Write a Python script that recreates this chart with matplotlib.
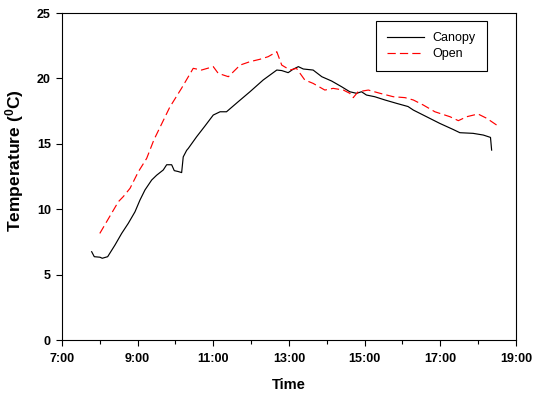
import matplotlib
matplotlib.use("Agg")
import matplotlib.pyplot as plt

plt.rcParams['font.family'] = ['Liberation Sans', 'DejaVu Sans']
plt.rcParams['mathtext.fontset'] = 'custom'
plt.rcParams['mathtext.bf'] = 'Liberation Sans:bold'
plt.rcParams['mathtext.rm'] = 'Liberation Sans:bold'

# hora decimal e temperatura
t_canopy = [7.785, 7.854, 8.004, 8.065, 8.208, 8.401, 8.578, 8.753, 8.93, 9.062, 9.194,
            9.371, 9.503, 9.678, 9.768, 9.9, 9.969, 10.074, 10.164, 10.206, 10.296,
            10.34, 10.56, 10.78, 11.0, 11.18, 11.35, 11.66, 11.97, 12.32, 12.5, 12.68,
            12.81, 12.98, 13.11, 13.25, 13.38, 13.64, 13.87, 14.13, 14.39, 14.61, 14.79,
            14.92, 15.05, 15.27, 15.54, 15.85, 16.15, 16.29, 16.64, 16.99, 17.34, 17.52,
            17.87, 18.14, 18.33, 18.36]
y_canopy = [6.75, 6.37, 6.33, 6.25, 6.37, 7.26, 8.15, 8.92, 9.8, 10.7, 11.47,
            12.23, 12.6, 13.0, 13.4, 13.4, 12.95, 12.88, 12.8, 14.0, 14.5,
            14.65, 15.54, 16.36, 17.2, 17.45, 17.45, 18.22, 18.98, 19.88, 20.26, 20.64,
            20.6, 20.44, 20.7, 20.9, 20.72, 20.64, 20.13, 19.8, 19.37, 18.98, 18.86,
            18.98, 18.73, 18.6, 18.35, 18.09, 17.85, 17.58, 17.07, 16.56, 16.1, 15.85,
            15.8, 15.67, 15.49, 14.52]

t_open = [8.0, 8.49, 8.62, 8.8, 9.02, 9.24, 9.43, 9.85, 10.16, 10.47, 10.69, 11.0,
          11.13, 11.4, 11.71, 11.97, 12.23, 12.45, 12.68, 12.81, 13.03, 13.2, 13.42,
          13.64, 13.95, 14.17, 14.44, 14.61, 14.7, 14.83, 15.1, 15.41, 15.76, 16.07,
          16.29, 16.55, 16.86, 17.26, 17.48, 17.7, 18.0, 18.23, 18.49]
y_open = [8.15, 10.57, 10.96, 11.6, 12.87, 13.89, 15.3, 17.8, 19.24, 20.77, 20.64, 20.9,
          20.39, 20.13, 21.02, 21.28, 21.46, 21.66, 22.04, 21.02, 20.64, 20.77, 19.88,
          19.62, 19.11, 19.24, 19.11, 18.86, 18.53, 18.98, 19.11, 18.86, 18.6, 18.53,
          18.35, 17.97, 17.45, 17.07, 16.77, 17.07, 17.28, 16.95, 16.44]

xticks = [7, 9, 11, 13, 15, 17, 19]
xlabels = ["7:00", "9:00", "11:00", "13:00", "15:00", "17:00", "19:00"]

fig = plt.figure(figsize=(5.38, 3.98), dpi=100)
ax = fig.add_axes([0.1152, 0.1457, 0.8436, 0.8216])

ax.plot(t_canopy, y_canopy, color="black", lw=0.85, label="Canopy")
ax.plot(t_open, y_open, color="red", lw=0.85, dashes=(7, 3.5), label="Open")

ax.set_xlim(7, 19)
ax.set_ylim(0, 25)
ax.set_xticks(xticks)
ax.set_xticklabels(xlabels)
ax.set_xticks(range(8, 19, 2), minor=True)
ax.set_yticks([0, 5, 10, 15, 20, 25])
ax.tick_params(axis="x", direction="out", length=4, width=0.8, labelsize=9, pad=5)
ax.tick_params(axis="y", direction="out", length=4, width=0.8, labelsize=9, pad=4)
ax.tick_params(which="minor", direction="out", length=3, width=0.8)
for lab in ax.get_xticklabels() + ax.get_yticklabels():
    lab.set_fontweight("bold")

ax.set_xlabel("Time", fontsize=10.5, fontweight="bold", labelpad=10)
ax.set_ylabel(r"Temperature ($\mathbf{^0}$C)", fontsize=12.5, fontweight="bold")
ax.yaxis.set_label_coords(-0.079, 0.55)

leg = ax.legend(loc="upper right", bbox_to_anchor=(0.936, 0.9755), fontsize=9,
                fancybox=False, edgecolor="black", framealpha=1, handlelength=3.0,
                handletextpad=0.65, borderpad=0.9, labelspacing=0.3, borderaxespad=0)
leg.get_frame().set_linewidth(0.8)

fig.savefig("out.png", dpi=100)
